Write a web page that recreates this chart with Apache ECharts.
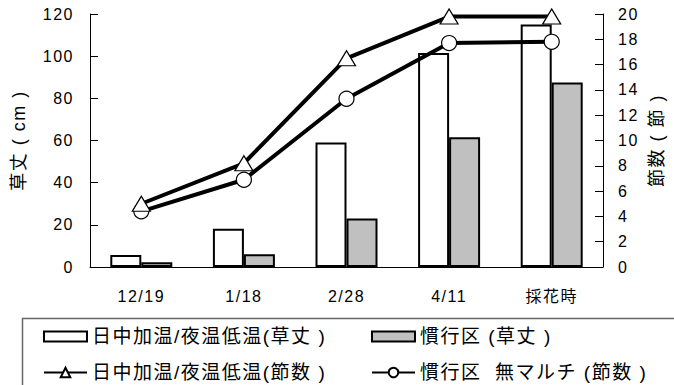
<!DOCTYPE html>
<html>
<head>
<meta charset="utf-8">
<script src="https://cdn.jsdelivr.net/npm/echarts@6/dist/echarts.min.js"></script>
<style>
  html, body { margin: 0; padding: 0; background: #fff; }
  #chart { width: 674px; height: 385px; }
  #chart text { letter-spacing: 1.5px; }
</style>
</head>
<body>
<div id="chart"></div>
<script>
const categories = ['12/19', '1/18', '2/28', '4/11', '採花時'];
const heightHeated = [5.7, 18.2, 59, 101.5, 115];
const heightConv = [2.3, 6, 23, 61.5, 87.5];
const nodesHeated = [5.0, 8.2, 16.5, 19.8, 19.8];
const nodesConv = [4.4, 6.9, 13.3, 17.7, 17.8];
const leftTicks = [0, 20, 40, 60, 80, 100, 120];
const rightTicks = [0, 2, 4, 6, 8, 10, 12, 14, 16, 18, 20];

const names = [
  '日中加温/夜温低温(草丈 )',
  '慣行区 (草丈 )',
  '日中加温/夜温低温(節数 )',
  '慣行区  無マルチ (節数 )'
];

const FONT = '"Liberation Sans", "Noto Sans CJK JP", sans-serif';
const txt = { color: '#000', fontSize: 16, fontFamily: FONT };
const nameTxt = { color: '#000', fontSize: 18, fontFamily: FONT };
const legendTxt = { color: '#000', fontSize: 19, fontFamily: FONT };

const chart = echarts.init(document.getElementById('chart'), null, { renderer: 'svg' });

function legendAt(name, left, top, isBar) {
  return {
    data: [name], left: left, top: top, padding: 0,
    itemWidth: 43, itemHeight: isBar ? 10 : 12,
    icon: isBar ? 'rect' : undefined,
    textStyle: legendTxt
  };
}

chart.setOption({
  animation: false,
  grid: { left: 90, right: 61, top: 14, bottom: 118 },
  legend: [
    legendAt(names[0], 43, 327, true),
    legendAt(names[1], 371, 327, true),
    legendAt(names[2], 43, 363, false),
    legendAt(names[3], 371, 363, false)
  ],
  graphic: [{
    type: 'rect', left: 20, top: 316,
    shape: { x: 0, y: 0, width: 700, height: 100 },
    style: { fill: 'none', stroke: '#666', lineWidth: 1.5 }
  }],
  xAxis: {
    type: 'category', data: categories,
    axisLine: { lineStyle: { color: '#000', width: 1 } },
    axisTick: { inside: true, length: 6, lineStyle: { color: '#000' } },
    axisLabel: Object.assign({ margin: 21 }, txt)
  },
  yAxis: [
    {
      type: 'value', min: leftTicks[0], max: leftTicks[leftTicks.length - 1], interval: 20,
      name: '草丈 ( cm )', nameLocation: 'middle', nameGap: 62, nameRotate: 90,
      nameTextStyle: nameTxt,
      axisLine: { show: true, lineStyle: { color: '#000' } },
      axisTick: { show: true, inside: true, length: 8, lineStyle: { color: '#000' } },
      axisLabel: Object.assign({ margin: 16 }, txt),
      splitLine: { show: false }
    },
    {
      type: 'value', min: rightTicks[0], max: rightTicks[rightTicks.length - 1], interval: 2,
      name: '節数 ( 節 )', nameLocation: 'middle', nameGap: 45, nameRotate: 90,
      nameTextStyle: nameTxt,
      position: 'right',
      axisLine: { show: true, lineStyle: { color: '#000' } },
      axisTick: { show: true, inside: true, length: 8, lineStyle: { color: '#000' } },
      axisLabel: Object.assign({ margin: 15 }, txt),
      splitLine: { show: false }
    }
  ],
  series: [
    {
      name: names[0], type: 'bar', data: heightHeated, yAxisIndex: 0,
      barWidth: 31, barGap: '0%',
      itemStyle: { color: '#fff', borderColor: '#000', borderWidth: 2 }
    },
    {
      name: names[1], type: 'bar', data: heightConv, yAxisIndex: 0,
      barWidth: 31, barGap: '0%',
      itemStyle: { color: '#c0c0c0', borderColor: '#000', borderWidth: 2 }
    },
    {
      name: names[2], type: 'line', data: nodesHeated, yAxisIndex: 1, z: 5,
      symbol: 'triangle', symbolSize: [18, 15],
      lineStyle: { color: '#000', width: 4 },
      itemStyle: { color: '#fff', borderColor: '#000', borderWidth: 1.2 }
    },
    {
      name: names[3], type: 'line', data: nodesConv, yAxisIndex: 1, z: 4,
      symbol: 'circle', symbolSize: 15,
      lineStyle: { color: '#000', width: 4 },
      itemStyle: { color: '#fff', borderColor: '#000', borderWidth: 1.2 }
    }
  ]
});
</script>
</body>
</html>
